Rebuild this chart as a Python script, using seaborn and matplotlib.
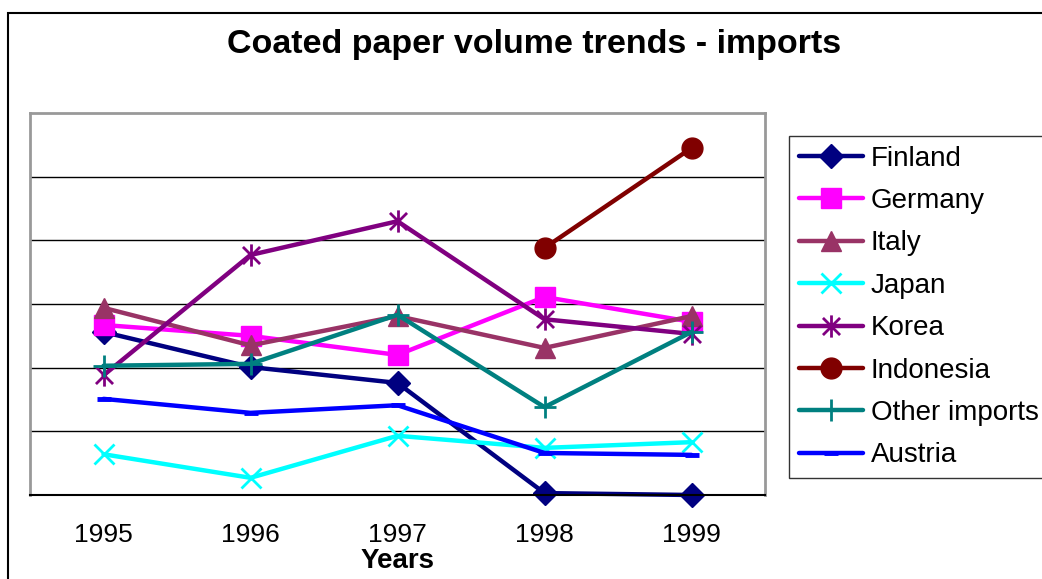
import numpy as np
import pandas as pd
import matplotlib
matplotlib.use("Agg")
import matplotlib.pyplot as plt
from matplotlib.patches import Rectangle
from matplotlib.path import Path
import seaborn as sns

years = ["1995", "1996", "1997", "1998", "1999"]
series_names = ["Finland", "Germany", "Italy", "Japan", "Korea", "Indonesia", "Other imports", "Austria"]
finland = [2.56, 2.01, 1.76, 0.03, 0.0]
germany = [2.67, 2.50, 2.20, 3.11, 2.72]
italy = [2.94, 2.35, 2.81, 2.31, 2.81]
japan = [0.64, 0.27, 0.93, 0.74, 0.83]
korea = [1.88, 3.77, 4.30, 2.76, 2.53]
indonesia = [np.nan, np.nan, np.nan, 3.88, 5.45]
other_imports = [2.03, 2.06, 2.83, 1.38, 2.56]
austria = [1.51, 1.29, 1.41, 0.66, 0.63]
values = [finland, germany, italy, japan, korea, indonesia, other_imports, austria]

colors = ["#000080", "#FF00FF", "#993366", "#00FFFF", "#800080", "#800000", "#008080", "#0000FF"]

# asterisk marker: X plus vertical bar
ast = Path([(-1, -1), (1, 1), (-1, 1), (1, -1), (0, -1.3), (0, 1.3)],
           [Path.MOVETO, Path.LINETO, Path.MOVETO, Path.LINETO, Path.MOVETO, Path.LINETO])
markers = ["D", "s", "^", "x", ast, "o", "+", "_"]
msizes = [12, 14, 15, 15, 16, 15, 16, 10]
mews = [1, 1, 1, 2, 2, 1, 2, 3.5]

sns.set_style("white")
plt.rcParams['font.family'] = ['Liberation Sans', 'DejaVu Sans']
plt.rcParams['text.color'] = 'black'
plt.rcParams['xtick.color'] = 'black'
plt.rcParams['axes.labelcolor'] = 'black'

fig = plt.figure(figsize=(10.42, 5.79), dpi=100)
ax = fig.add_axes([30/1042, 1-495/579, (765-30)/1042, (495-113)/579])

xpos = np.arange(len(years))
for name, vals, c, m, ms, mew in zip(series_names, values, colors, markers, msizes, mews):
    df = pd.DataFrame({"x": xpos, "y": vals}).dropna()
    sns.lineplot(data=df, x="x", y="y", ax=ax, color=c, marker=m, markersize=ms,
                 markeredgecolor=c, markerfacecolor=c, markeredgewidth=mew,
                 linewidth=3.2, label=name, legend=False, clip_on=False)

ax.set_xlim(-0.5, 4.5)
ax.set_ylim(0, 6)
ax.set_yticks([1, 2, 3, 4, 5])
ax.yaxis.grid(True, color="black", linewidth=1)
ax.set_axisbelow(True)
ax.tick_params(axis="y", left=False, labelleft=False)

ax.set_xticks(np.arange(-0.5, 5.0, 1.0))
ax.set_xticklabels([])
ax.tick_params(axis="x", which="major", direction="out", length=8, width=1, color="black")
ax.set_xticks(xpos, minor=True)
ax.set_xticklabels(years, minor=True, fontsize=19)
ax.tick_params(axis="x", which="minor", length=0, pad=20, labelcolor="black")
ax.set_xlabel("Years", fontsize=20, fontweight="bold", color="black")
ax.xaxis.set_label_coords(0.5, -(548 - 495) / 382)
ax.set_ylabel("")

for s in ["left", "top", "right"]:
    ax.spines[s].set_color("#999999")
    ax.spines[s].set_linewidth(2)
ax.spines["bottom"].set_color("black")
ax.spines["bottom"].set_linewidth(1.5)

fig.text(534/1042, 1-45/579, "Coated paper volume trends - imports", ha="center", va="center",
         fontsize=24.5, fontweight="bold", color="black")

handles, labels = ax.get_legend_handles_labels()
leg = fig.legend(handles, labels, loc="upper left", bbox_to_anchor=(789/1042, 1-136/579),
                 fontsize=20, frameon=True, fancybox=False, borderaxespad=0,
                 handlelength=2.3, handletextpad=0.3, labelspacing=0.59, borderpad=0.35,
                 labelcolor="black")
leg.get_frame().set_edgecolor("black")
leg.get_frame().set_linewidth(1)

fig.add_artist(Rectangle((8/1042, -0.1), 1.2, 1-13/579+0.1, transform=fig.transFigure,
                         fill=False, edgecolor="black", linewidth=1.5, clip_on=False))

fig.savefig("out.png", dpi=100)
